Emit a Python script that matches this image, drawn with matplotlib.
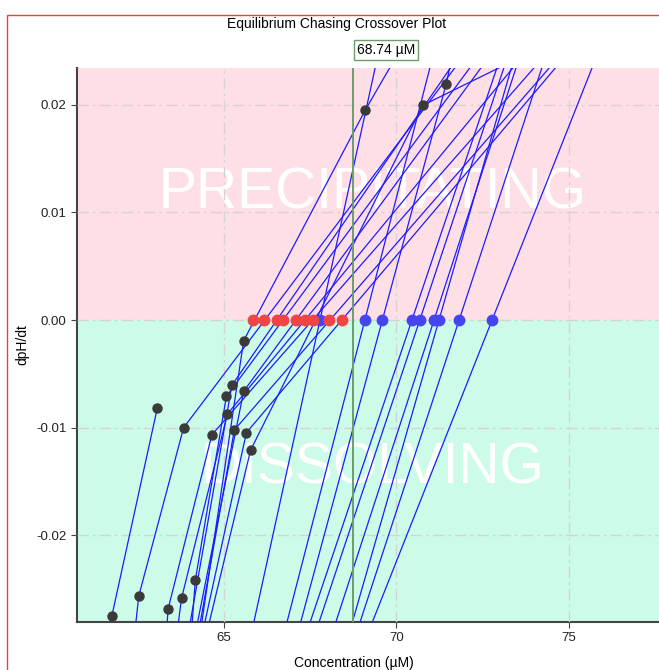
import matplotlib
matplotlib.use('Agg')
import matplotlib.pyplot as plt
from matplotlib.patches import Rectangle

plt.rcParams['font.family'] = ['Liberation Sans', 'DejaVu Sans']

# threshold found by the chase
crossover = 68.74

# chase segments: (x0, y0) -> (x1, y1)  concentration (uM), dpH/dt
seg_x0 = [61.61, 61.75, 62.39, 62.53, 63.32, 63.38, 63.61, 63.77, 64.04, 64.17,
          63.93, 64.13, 64.22, 64.33, 64.45, 64.28,
          65.57, 69.10, 63.83, 65.23, 65.07, 65.57, 65.10, 64.65, 65.30, 65.65,
          65.77, 70.76,
          67.08, 71.44, 66.69, 67.32, 67.58, 68.07, 68.57, 68.77, 69.09, 65.75]
seg_y0 = [-0.0298, -0.02753, -0.0298, -0.02567, -0.0298, -0.02688, -0.0298, -0.02588, -0.0298, -0.02418,
          -0.0298, -0.0298, -0.0298, -0.0298, -0.0298, -0.0298,
          -0.00193, 0.01956, -0.01002, -0.00607, -0.00710, -0.00663, -0.00874, -0.01067, -0.01023, -0.01048,
          -0.01212, 0.01997,
          -0.0298, 0.02195, -0.0298, -0.0298, -0.0298, -0.0298, -0.0298, -0.0298, -0.0298, -0.0298]
seg_x1 = [61.75, 63.07, 62.53, 63.83, 63.38, 64.65, 63.77, 65.10, 64.17, 65.07,
          65.23, 65.57, 65.30, 65.65, 65.77, 65.57,
          69.10, 70.01, 71.96, 71.81, 72.39, 72.71, 73.67, 74.30, 74.74, 74.91,
          70.76, 73.70,
          71.44, 71.78, 71.06, 73.03, 73.23, 73.58, 73.43, 74.33, 75.81, 69.46]
seg_y1 = [-0.02753, -0.00816, -0.02567, -0.01002, -0.02688, -0.01067, -0.02588, -0.00874, -0.02418, -0.00710,
          -0.00607, -0.00663, -0.01023, -0.01048, -0.01212, -0.00193,
          0.01956, 0.0246, 0.0246, 0.0246, 0.0246, 0.0246, 0.0246, 0.0246, 0.0246, 0.0246,
          0.01997, 0.0246,
          0.02195, 0.02698, 0.0246, 0.0246, 0.0246, 0.0246, 0.0246, 0.0246, 0.0246, 0.0246]

# measured points
meas_x = [61.75, 62.53, 63.07, 63.38, 63.77, 63.83, 64.17, 64.65, 65.07, 65.10,
          65.23, 65.30, 65.57, 65.65, 65.57, 65.77, 69.10, 70.76, 71.44]
meas_y = [-0.02753, -0.02567, -0.00816, -0.02688, -0.02588, -0.01002, -0.02418, -0.01067, -0.00710, -0.00874,
          -0.00607, -0.01023, -0.00663, -0.01048, -0.00193, -0.01212, 0.01956, 0.01997, 0.02195]

# zero crossings
cross_red = [65.85, 66.17, 66.53, 66.72, 67.08, 67.35, 67.59, 68.05, 68.41]
cross_blue = [67.78, 69.09, 69.59, 70.44, 70.68, 71.09, 71.24, 71.81, 72.76]

xticks = [65, 70, 75]
yticks = [-0.02, -0.01, 0.0, 0.01, 0.02]
xlim = (60.74, 77.84)
ylim = (-0.02809, 0.02344)

W, H = 659, 670
fig = plt.figure(figsize=(W / 100, H / 100), dpi=100)
ax = fig.add_axes([77 / W, 1 - 622 / H, (667 - 77) / W, (622 - 68) / H])

ax.axhspan(0, ylim[1], color='#ffdfe6', zorder=0, lw=0)
ax.axhspan(ylim[0], 0, color='#ccfbe7', zorder=0, lw=0)

ax.set_xlim(*xlim)
ax.set_ylim(*ylim)
ax.set_xticks(xticks)
ax.set_yticks(yticks)
ax.set_yticklabels(['%.2f' % v for v in yticks])
ax.grid(True, color='#d4d4d4', linestyle=(0, (8, 3, 2, 3)), linewidth=1, zorder=1)
ax.set_axisbelow(False)

ax.text(69.29, 0.01177, 'PRECIPITATING', color='white', fontsize=41,
        ha='center', va='center', zorder=2)
ax.text(69.29, -0.01377, 'DISSOLVING', color='white', fontsize=41,
        ha='center', va='center', zorder=2)

for x0, y0, x1, y1 in zip(seg_x0, seg_y0, seg_x1, seg_y1):
    ax.plot([x0, x1], [y0, y1], color='#1c1cff', lw=0.9, zorder=3)

ax.axvline(crossover, color='#6b9e6b', lw=1.4, zorder=4)

ax.plot(meas_x, meas_y, 'o', color='#3a3a3a', ms=6.5, zorder=5)
ax.plot(cross_blue, [0] * len(cross_blue), 'o', color='#4545ee', ms=7.5, zorder=5)
ax.plot(cross_red, [0] * len(cross_red), 'o', color='#f04545', ms=7.5, zorder=6)

ax.annotate('%.2f µM' % crossover, xy=(crossover, 1), xycoords=('data', 'axes fraction'),
            xytext=(3, 8), textcoords='offset points', ha='left', va='bottom', fontsize=10,
            bbox=dict(boxstyle='square,pad=0.2', fc='white', ec='#6b9e6b', lw=1))

for side in ['top', 'right']:
    ax.spines[side].set_visible(False)
for side in ['left', 'bottom']:
    ax.spines[side].set_color('#444444')
    ax.spines[side].set_linewidth(1.5)
ax.tick_params(labelsize=9.5, length=4, color='#444444', labelcolor='#222222')

fig.text(337 / W, 1 - 24 / H, 'Equilibrium Chasing Crossover Plot', ha='center', va='center', fontsize=10)
fig.text(354 / W, 1 - 663 / H, 'Concentration (µM)', ha='center', va='center', fontsize=10)
fig.text(22 / W, 1 - 345 / H, 'dpH/dt', ha='center', va='center', rotation=90, fontsize=10)

fig.patches.append(Rectangle((7 / W, -0.1), 2, 1 - 15 / H + 0.1, transform=fig.transFigure,
                             fill=False, edgecolor='#e84040', lw=1))

fig.savefig('out.png', dpi=100)
